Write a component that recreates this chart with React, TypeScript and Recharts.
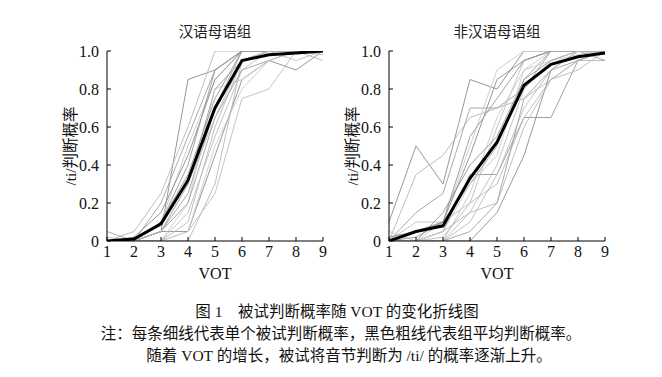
import React from 'react';
import { LineChart, Line, XAxis, YAxis } from 'recharts';

// VOT steps on the x axis
const vot = [1, 2, 3, 4, 5, 6, 7, 8, 9];
const yTicks = [0, 0.2, 0.4, 0.6, 0.8, 1.0];

// group means (thick black line)
const hanMean = [0, 0.01, 0.09, 0.32, 0.7, 0.95, 0.98, 0.99, 1.0];
const nonHanMean = [0, 0.05, 0.08, 0.33, 0.52, 0.82, 0.93, 0.97, 0.99];

// single subjects (thin grey lines), Chinese native group
const hanSubjects = [
    [0, 0, 0.05, 0.85, 0.9, 1, 1, 1, 1],
    [0, 0.05, 0.25, 0.6, 1, 1, 1, 1, 1],
    [0.05, 0, 0.2, 0.55, 0.9, 1, 1, 1, 1],
    [0, 0, 0.1, 0.5, 0.85, 1, 1, 1, 1],
    [0, 0, 0.05, 0.3, 0.8, 0.95, 1, 1, 1],
    [0, 0, 0, 0.05, 0.25, 0.75, 0.8, 1, 1],
    [0, 0, 0.05, 0.05, 0.45, 0.85, 0.95, 0.9, 1],
    [0, 0, 0, 0.1, 0.6, 0.95, 1, 1, 0.95],
    [0, 0, 0.05, 0.25, 0.7, 1, 1, 1, 1],
    [0, 0, 0, 0.2, 0.8, 0.85, 0.95, 1, 1],
    [0, 0, 0.1, 0.35, 0.75, 1, 1, 1, 1],
    [0, 0, 0, 0.15, 0.55, 0.9, 1, 0.95, 1],
    [0, 0.02, 0.15, 0.45, 0.85, 1, 1, 1, 1],
    [0, 0, 0, 0, 0.3, 0.95, 1, 1, 1],
    [0, 0, 0.05, 0.2, 0.65, 0.9, 0.95, 1, 1],
    [0, 0, 0, 0.05, 0.5, 0.8, 0.95, 1, 1],
    [0, 0, 0.1, 0.4, 0.9, 1, 1, 1, 1],
    [0.02, 0, 0.05, 0.3, 0.65, 0.95, 1, 1, 0.98],
];

// single subjects, non-Chinese native group
const nonHanSubjects = [
    [0.1, 0.5, 0.3, 0.85, 0.8, 1, 1, 1, 1],
    [0, 0.35, 0.45, 0.65, 0.7, 0.75, 0.85, 0.95, 0.95],
    [0, 0.15, 0.25, 0.7, 0.7, 0.8, 1, 1, 1],
    [0.05, 0, 0.1, 0.5, 0.9, 1, 1, 1, 1],
    [0, 0, 0.05, 0.35, 0.35, 0.65, 0.65, 0.95, 1],
    [0, 0.1, 0.1, 0.2, 0.6, 0.95, 1, 1, 1],
    [0, 0, 0, 0, 0.15, 0.45, 0.9, 1, 1],
    [0, 0, 0.05, 0.15, 0.2, 0.6, 0.85, 0.95, 1],
    [0, 0.05, 0.1, 0.3, 0.5, 0.85, 1, 1, 1],
    [0, 0, 0, 0.25, 0.65, 0.9, 0.95, 0.98, 1],
    [0, 0, 0.15, 0.4, 0.55, 0.85, 0.95, 1, 0.95],
    [0, 0, 0, 0.1, 0.35, 0.7, 0.9, 1, 1],
    [0.02, 0.05, 0.1, 0.45, 0.85, 0.95, 1, 1, 1],
    [0, 0, 0.02, 0.2, 0.3, 0.65, 0.85, 0.9, 1],
    [0, 0, 0, 0.05, 0.2, 0.75, 0.9, 0.95, 1],
    [0, 0, 0.05, 0.3, 0.45, 0.9, 1, 1, 0.98],
    [0, 0.02, 0.1, 0.55, 0.75, 0.95, 1, 1, 1],
    [0, 0, 0, 0.15, 0.4, 0.8, 0.95, 1, 1],
];

const greys = ['#8c8c8c', '#b8b8b8', '#a0a0a0', '#cacaca', '#979797', '#bdbdbd'];

const FONT = '"Liberation Serif", "Noto Sans CJK SC", serif';

const buildRows = (subjects: number[][], mean: number[]) =>
    vot.map((v, i) => {
        const row: { [key: string]: number } = { vot: v, mean: mean[i] };
        subjects.forEach((s, k) => {
            row[`s${k}`] = s[i];
        });
        return row;
    });

interface PanelProps {
    title: string;
    subjects: number[][];
    mean: number[];
    left: number;
}

const Panel: React.FC<PanelProps> = ({ title, subjects, mean, left }) => {
    const rows = buildRows(subjects, mean);
    const tickStyle = { fontSize: 16, fill: '#111', fontFamily: FONT };
    return (
        <div style={{ position: 'absolute', left, top: 20, width: 300, height: 280 }}>
            <div
                style={{
                    position: 'absolute', left: 67, width: 216, top: 0, textAlign: 'center',
                    fontSize: 14.5, fontFamily: FONT, color: '#222',
                }}
            >
                {title}
            </div>
            <LineChart width={300} height={280} data={rows} margin={{ top: 31, right: 17, left: 27, bottom: 19 }}>
                <XAxis
                    dataKey="vot"
                    type="number"
                    domain={[1, 9]}
                    ticks={vot}
                    allowDataOverflow
                    height={40}
                    tickSize={-4}
                    tickMargin={9}
                    stroke="#000"
                    tick={tickStyle}
                    label={{ value: 'VOT', position: 'insideBottom', offset: 2, fontSize: 16, fill: '#111', fontFamily: FONT }}
                />
                <YAxis
                    type="number"
                    domain={[0, 1]}
                    ticks={yTicks}
                    allowDataOverflow
                    width={40}
                    tickSize={-4}
                    tickMargin={12}
                    stroke="#000"
                    tick={tickStyle}
                    tickFormatter={(v: number) => (v === 0 ? '0' : v.toFixed(1))}
                    label={{
                        value: '/ti/判断概率', angle: -90, position: 'insideLeft', offset: 3,
                        fontSize: 15.5, fill: '#111', fontFamily: FONT, style: { textAnchor: 'middle' },
                    }}
                />
                {subjects.map((_, k) => (
                    <Line
                        key={k}
                        dataKey={`s${k}`}
                        stroke={greys[k % greys.length]}
                        strokeWidth={0.9}
                        dot={false}
                        isAnimationActive={false}
                    />
                ))}
                <Line dataKey="mean" stroke="#000" strokeWidth={3} dot={false} isAnimationActive={false} />
            </LineChart>
        </div>
    );
};

const captionStyle: React.CSSProperties = {
    position: 'absolute', left: 0, width: 662, textAlign: 'center',
    fontSize: 15.5, fontFamily: FONT, color: '#111', whiteSpace: 'nowrap',
};

export default function App() {
    return (
        <div style={{ position: 'absolute', left: 0, top: 0, width: 662, height: 377, background: '#fff', overflow: 'hidden' }}>
            <Panel title="汉语母语组" subjects={hanSubjects} mean={hanMean} left={40} />
            <Panel title="非汉语母语组" subjects={nonHanSubjects} mean={nonHanMean} left={322} />
            <div style={{ ...captionStyle, top: 299, left: 6 }}>图 1　被试判断概率随 VOT 的变化折线图</div>
            <div style={{ ...captionStyle, top: 321, left: 10 }}>注：每条细线代表单个被试判断概率，黑色粗线代表组平均判断概率。</div>
            <div style={{ ...captionStyle, top: 343, left: 18 }}>随着 VOT 的增长，被试将音节判断为 /ti/ 的概率逐渐上升。</div>
        </div>
    );
}
